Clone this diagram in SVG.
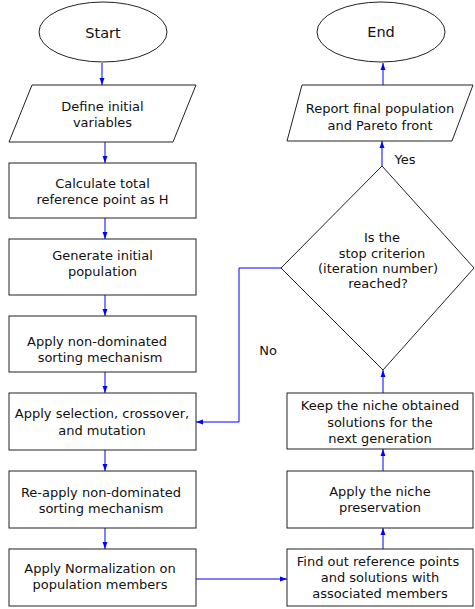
<svg xmlns="http://www.w3.org/2000/svg" width="475" height="609" viewBox="0 0 475 609">
<defs>
<marker id="ah" viewBox="0 0 10 10" refX="10" refY="5" markerWidth="7" markerHeight="7" markerUnits="userSpaceOnUse" orient="auto">
<path d="M0,1.5 L10,5 L0,8.5 z" fill="#0000ff"/>
</marker>
<style>
.s{fill:#fff;stroke:#222;stroke-width:1}
.t{font-family:"DejaVu Sans",Verdana,sans-serif;font-size:13px;fill:#111;text-anchor:middle;dominant-baseline:central}
.b{font-size:14.5px}
.c{fill:none;stroke:#0000ff;stroke-width:1;marker-end:url(#ah)}
</style>
</defs>
<rect width="475" height="609" fill="#fff"/>
<g id="connectors">
<line class="c" x1="102" y1="63" x2="102" y2="85"/>
<line class="c" x1="105" y1="142" x2="105" y2="163"/>
<line class="c" x1="105" y1="218" x2="105" y2="239"/>
<line class="c" x1="105" y1="295" x2="105" y2="316"/>
<line class="c" x1="105" y1="372" x2="105" y2="393"/>
<line class="c" x1="105" y1="450" x2="105" y2="471"/>
<line class="c" x1="105" y1="528" x2="105" y2="549"/>
<line class="c" x1="196" y1="579" x2="287" y2="579"/>
<line class="c" x1="383" y1="549" x2="383" y2="528"/>
<line class="c" x1="383" y1="471" x2="383" y2="449"/>
<line class="c" x1="383" y1="393" x2="383" y2="370"/>
<line class="c" x1="382" y1="166" x2="382" y2="141"/>
<line class="c" x1="383" y1="85" x2="383" y2="63"/>
<path class="c" d="M281,268 H239 V422 H196"/>
<text class="t" x="405" y="159">Yes</text>
<text class="t" x="268" y="350">No</text>
</g>
<g id="start"><ellipse class="s" cx="103" cy="32" rx="64" ry="30"/><text class="t b" x="103" y="33">Start</text></g>
<g id="end"><ellipse class="s" cx="381" cy="32" rx="64" ry="30"/><text class="t b" x="381" y="32">End</text></g>
<g id="define"><polygon class="s" points="32,85 196,85 173,142 9,142"/><text class="t" x="102.5" y="106">Define initial</text><text class="t" x="102.5" y="122">variables</text></g>
<g id="calc"><rect class="s" x="9" y="163" width="187" height="55"/><text class="t" x="102.5" y="183">Calculate total</text><text class="t" x="102.5" y="199">reference point as H</text></g>
<g id="generate"><rect class="s" x="9" y="239" width="187" height="56"/><text class="t" x="102.5" y="255">Generate initial</text><text class="t" x="102.5" y="271">population</text></g>
<g id="sort"><rect class="s" x="9" y="316" width="187" height="56"/><text class="t" x="97" y="341">Apply non-dominated</text><text class="t" x="100" y="357">sorting mechanism</text></g>
<g id="select"><rect class="s" x="9" y="393" width="187" height="57"/><text class="t" x="102" y="413">Apply selection, crossover,</text><text class="t" x="102" y="430">and mutation</text></g>
<g id="reapply"><rect class="s" x="9" y="471" width="187" height="57"/><text class="t" x="101" y="492">Re-apply non-dominated</text><text class="t" x="101" y="508">sorting mechanism</text></g>
<g id="normalize"><rect class="s" x="9" y="549" width="187" height="57"/><text class="t" x="100" y="568">Apply Normalization on</text><text class="t" x="100" y="584">population members</text></g>
<g id="report"><polygon class="s" points="302,85 473,85 452,141 287,141"/><text class="t" x="380" y="108">Report final population</text><text class="t" x="380" y="125">and Pareto front</text></g>
<g id="decision"><polygon class="s" points="382,166 474,268 383,370 281,268"/><text class="t" x="382" y="237">Is the</text><text class="t" x="382" y="253">stop criterion</text><text class="t" x="378" y="268">(iteration number)</text><text class="t" x="378" y="283">reached?</text></g>
<g id="keep"><rect class="s" x="287" y="393" width="186" height="56"/><text class="t" x="380" y="405">Keep the niche obtained</text><text class="t" x="380" y="422">solutions for the</text><text class="t" x="380" y="438">next generation</text></g>
<g id="niche"><rect class="s" x="287" y="471" width="186" height="57"/><text class="t" x="380" y="491">Apply the niche</text><text class="t" x="380" y="507">preservation</text></g>
<g id="find"><rect class="s" x="287" y="549" width="186" height="57"/><text class="t" x="378" y="561">Find out reference points</text><text class="t" x="380" y="577">and solutions with</text><text class="t" x="380" y="593">associated members</text></g>
</svg>
